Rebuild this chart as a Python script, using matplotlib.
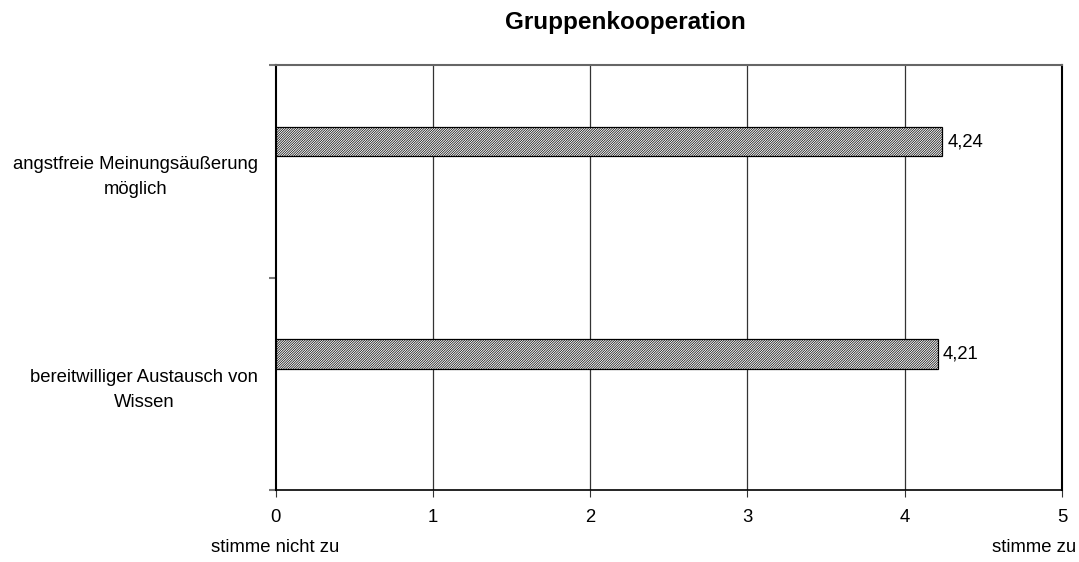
import matplotlib
matplotlib.use("Agg")
import matplotlib.pyplot as plt
from matplotlib.ticker import FixedLocator

plt.rcParams['font.family'] = ['Liberation Sans', 'DejaVu Sans']
plt.rcParams['hatch.linewidth'] = 0.5
plt.rcParams['hatch.color'] = '#555555'

title = "Gruppenkooperation"
categories = ["bereitwilliger Austausch von\nWissen", "angstfreie Meinungsäußerung\nmöglich"]
values = [4.21, 4.24]
value_labels = ["4,21", "4,24"]
xticks = [0, 1, 2, 3, 4, 5]
left_label = "stimme nicht zu"
right_label = "stimme zu"

W, H = 1079, 562
FS = 13.3
fig = plt.figure(figsize=(W / 100, H / 100), dpi=100)
ax = fig.add_axes([275.5 / W, 1 - 490 / H, (1062 - 275.5) / W, (490 - 65) / H])

pos = list(range(len(categories)))
offset = 0.139
bar_h = 0.139
ax.barh([p + offset for p in pos], values, height=bar_h, color='white',
        edgecolor='black', linewidth=0.9, hatch='//////////////', zorder=3)
for p, v, lab in zip(pos, values, value_labels):
    ax.text(v + 0.03, p + offset, lab, va='center', ha='left', fontsize=FS, zorder=4)

ax.set_xlim(0, 5)
ax.set_ylim(-0.5, len(categories) - 0.5)
ax.set_xticks(xticks)
ax.set_xticklabels([str(t) for t in xticks], fontsize=FS)
ax.tick_params(axis='x', direction='out', length=5, width=0.8, pad=9, color='#333333')

ax.yaxis.set_major_locator(FixedLocator([-0.5, 0.5, 1.5]))
ax.set_yticklabels([])
ax.yaxis.set_minor_locator(FixedLocator(pos))
ax.set_yticklabels(categories, minor=True, fontsize=FS, multialignment='center', linespacing=1.6)
ax.tick_params(axis='y', which='major', direction='out', length=5, width=1.5, color='#777777')
ax.tick_params(axis='y', which='minor', length=0, pad=12.5)

for x in xticks[1:-1]:
    ax.axvline(x, color='#333333', linewidth=0.9, zorder=1)

ax.spines['left'].set_linewidth(1.5)
ax.spines['left'].set_color('black')
ax.spines['bottom'].set_linewidth(1.2)
ax.spines['bottom'].set_color('black')
ax.spines['right'].set_linewidth(1.5)
ax.spines['right'].set_color('black')
ax.spines['top'].set_linewidth(1.5)
ax.spines['top'].set_color('#666666')

fig.text(625 / W, 1 - 23 / H, title, ha='center', va='center', fontsize=17.5, fontweight='bold')
fig.text(275 / W, 1 - 548 / H, left_label, ha='center', va='center', fontsize=FS)
fig.text(1076 / W, 1 - 548 / H, right_label, ha='right', va='center', fontsize=FS)

fig.savefig("out.png", dpi=100)
